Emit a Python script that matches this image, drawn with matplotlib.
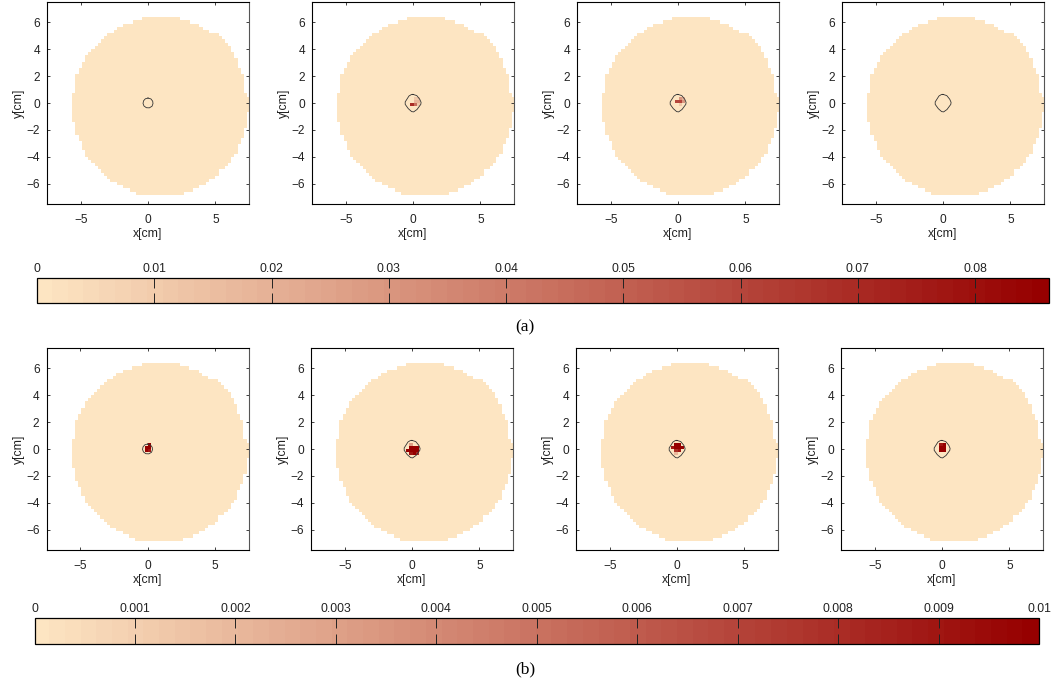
import numpy as np
import matplotlib
matplotlib.use("Agg")
import matplotlib.pyplot as plt
from matplotlib.colors import LinearSegmentedColormap, Normalize
from matplotlib.cm import ScalarMappable

plt.rcParams['font.family'] = ['Liberation Sans', 'DejaVu Sans']

W, H = 1056, 684

# left / right edge of the disc for each row of the grid, top to bottom [cm]
row_left = [-0.36, -1.10, -1.80, -2.30, -2.54, -3.04, -3.29, -3.53, -3.78, -4.00,
            -4.20, -4.45, -4.70, -4.70, -4.92, -4.92, -5.19, -5.19, -5.42, -5.42,
            -5.42, -5.42, -5.42, -5.42, -5.62, -5.62, -5.62, -5.62, -5.62, -5.62,
            -5.62, -5.62, -5.62, -5.42, -5.42, -5.42, -5.42, -5.19, -5.19, -4.92,
            -4.92, -4.92, -4.70, -4.70, -4.45, -4.20, -4.00, -3.78, -3.53, -3.29,
            -3.04, -2.79, -2.30, -1.80, -1.35, -0.91]
row_right = [2.27, 2.98, 3.68, 3.90, 4.42, 5.09, 5.34, 5.59, 5.83, 6.08,
             6.08, 6.33, 6.33, 6.58, 6.58, 6.58, 6.82, 6.82, 7.07, 7.07,
             7.07, 7.07, 7.07, 7.07, 7.22, 7.52, 7.52, 7.52, 7.52, 7.52,
             7.22, 7.22, 7.22, 7.22, 7.22, 7.07, 7.07, 7.07, 6.82, 6.82,
             6.58, 6.58, 6.58, 6.33, 6.08, 6.08, 5.83, 5.59, 5.30, 5.09,
             4.84, 4.42, 4.15, 3.68, 3.18, 2.49]

# hot cells of each frame: (row, col, value)
hot_a = [
    [],
    [(25, 24, 0.012), (25, 25, 0.012), (26, 24, 0.018), (26, 25, 0.018),
     (27, 23, 0.07), (27, 24, 0.045), (27, 25, 0.012)],
    [(25, 24, 0.03), (25, 25, 0.02), (26, 23, 0.06), (26, 24, 0.06), (26, 25, 0.03),
     (27, 24, 0.012)],
    [],
]
hot_b = [
    [(25, 24, 0.01), (26, 23, 0.01), (26, 24, 0.01), (27, 23, 0.01), (27, 24, 0.009)],
    [(25, 23, 0.003), (26, 23, 0.01), (26, 24, 0.01), (26, 25, 0.01),
     (27, 22, 0.01), (27, 23, 0.01), (27, 24, 0.01), (27, 25, 0.01),
     (28, 23, 0.009), (28, 24, 0.01), (28, 25, 0.008)],
    [(25, 23, 0.01), (25, 24, 0.01), (26, 22, 0.009), (26, 23, 0.01), (26, 24, 0.01),
     (26, 25, 0.01), (27, 23, 0.008), (27, 24, 0.009), (28, 23, 0.002)],
    [(25, 23, 0.009), (25, 24, 0.01), (26, 23, 0.01), (26, 24, 0.01),
     (27, 23, 0.01), (27, 24, 0.01)],
]

# outline around the centre [cm]
small_x = [0.00, 0.22, 0.35, 0.37, 0.30, 0.10, -0.12, -0.30, -0.37, -0.33, -0.20, 0.00]
small_y = [0.37, 0.30, 0.13, -0.05, -0.24, -0.36, -0.35, -0.22, -0.03, 0.16, 0.31, 0.37]
big_x = [0.00, 0.28, 0.50, 0.60, 0.58, 0.30, 0.05, -0.10, -0.35, -0.58, -0.58, -0.30, -0.10, 0.00]
big_y = [0.64, 0.55, 0.28, 0.05, -0.10, -0.48, -0.66, -0.64, -0.42, -0.10, 0.08, 0.52, 0.64, 0.64]

xticks = [-5, 0, 5]
yticks = [-6, -4, -2, 0, 2, 4, 6]
ticks_a = [0, 0.01, 0.02, 0.03, 0.04, 0.05, 0.06, 0.07, 0.08]
labels_a = ['0', '0.01', '0.02', '0.03', '0.04', '0.05', '0.06', '0.07', '0.08']
ticks_b = [0, 0.001, 0.002, 0.003, 0.004, 0.005, 0.006, 0.007, 0.008, 0.009, 0.01]
labels_b = ['0', '0.001', '0.002', '0.003', '0.004', '0.005', '0.006', '0.007', '0.008', '0.009', '0.01']

cmap = LinearSegmentedColormap.from_list('cream_red', ['#fde5c2', '#960000'], N=64)
cmap.set_bad('white')

fig = plt.figure(figsize=(W / 100, H / 100), dpi=100)


def axes_px(x0, y0, x1, y1):  # pixel box, y measured from the top
    return fig.add_axes([x0 / W, 1 - y1 / H, (x1 - x0) / W, (y1 - y0) / H])


n = len(row_left)
dx = 0.236
x_edges = -5.62 + dx * np.arange(n + 1)
y_edges = 6.37 - 0.2355 * np.arange(n + 1)
x_mid = (x_edges[:-1] + x_edges[1:]) / 2


def frame(box, hot, vmax, lx, ly):
    ax = axes_px(*box)
    Z = np.full((n, n), np.nan)
    for i in range(n):
        Z[i, (x_mid > row_left[i] - 0.05) & (x_mid < row_right[i] + 0.05)] = 0
    for r, c, v in hot:
        Z[r, c] = v
    ax.pcolormesh(x_edges, y_edges, np.ma.masked_invalid(Z), cmap=cmap, vmin=0, vmax=vmax)
    ax.plot(lx, ly, color='#333333', lw=0.6)
    ax.set_xlim(-7.5, 7.5)
    ax.set_ylim(-7.5, 7.5)
    ax.set_xticks(xticks)
    ax.set_yticks(yticks)
    ax.tick_params(axis='both', direction='in', length=2, width=0.6, top=True, right=True,
                   labelsize=8.6, colors='#222222')
    ax.tick_params(axis='x', pad=7)
    ax.tick_params(axis='y', pad=5)
    ax.set_xlabel('x[cm]', fontsize=8.8, labelpad=1.5, color='#222222')
    ax.set_ylabel('y[cm]', fontsize=8.8, labelpad=1, color='#222222')
    for s in ax.spines.values():
        s.set_linewidth(0.8)
    ax.spines['right'].set_color('#555555')
    return ax


def bar(box, vmax, ticks, labels):
    cax = axes_px(*box)
    cb = fig.colorbar(ScalarMappable(Normalize(0, vmax), cmap), cax=cax, orientation='horizontal')
    cb.set_ticks(ticks, labels=labels)
    cb.minorticks_off()
    cax.tick_params(axis='x', direction='in', length=7, width=0.7, top=True, bottom=True,
                    labeltop=True, labelbottom=False, labelsize=8.8, pad=2.5,
                    colors='#222222')
    cb.outline.set_linewidth(0.9)
    cb.outline.set_edgecolor('black')
    cb.solids.set_edgecolor('face')


lefts_a = [47, 312, 577, 842]
lefts_b = [46.5, 311, 576, 841]
for k in range(4):
    lx, ly = (small_x, small_y) if k == 0 else (big_x, big_y)
    frame((lefts_a[k], 2, lefts_a[k] + 202, 204), hot_a[k], 0.0863, lx, ly)
    frame((lefts_b[k], 348, lefts_b[k] + 202, 550), hot_b[k], 0.01, lx, ly)

bar((37, 278, 1049, 303), 0.0863, ticks_a, labels_a)
bar((34.5, 618, 1039, 644), 0.01, ticks_b, labels_b)

fig.text(525 / W, 1 - 327 / H, '(a)', family='Liberation Serif', fontsize=12.5, ha='center', va='center')
fig.text(525 / W, 1 - 669 / H, '(b)', family='Liberation Serif', fontsize=12.5, ha='center', va='center')

fig.savefig('out.png', dpi=100)
